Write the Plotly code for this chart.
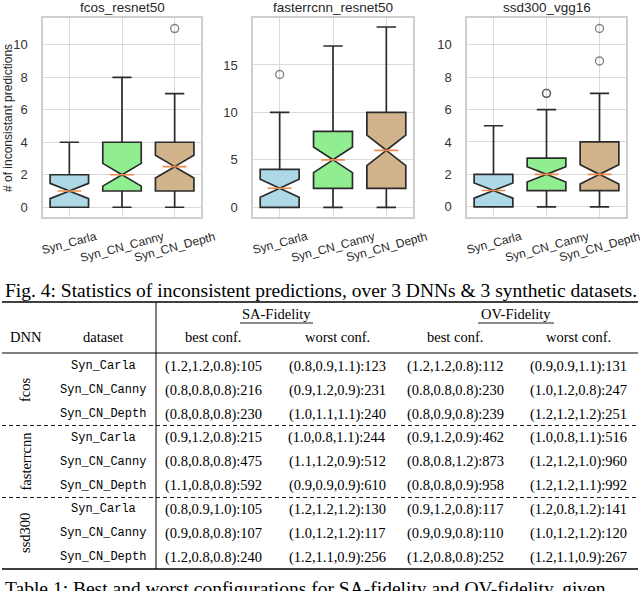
import plotly.graph_objects as go

W, H = 640, 591

categories = ["Syn_Carla", "Syn_CN_Canny", "Syn_CN_Depth"]
fill_colors = ["#add8e6", "#90ee90", "#d2b48c"]
panel_titles = ["fcos_resnet50", "fasterrcnn_resnet50", "ssd300_vgg16"]

# box statistics, one row per panel, one value per dataset
q1 = [[0, 1, 1], [0, 2, 2], [0, 1, 1]]
median = [[1, 2, 2.5], [2, 5, 6], [1, 2, 2]]
q3 = [[2, 4, 4], [4, 8, 10], [2, 3, 4]]
lower = [[0, 0, 0], [0, 0, 0], [0, 0, 0]]
upper = [[4, 8, 7], [10, 17, 19], [5, 6, 7]]
notch = [[0.47, 0.7, 0.7], [0.95, 1.35, 1.6], [0.47, 0.47, 0.6]]

# outliers per panel
out_cat = [["Syn_CN_Depth"], ["Syn_Carla"], ["Syn_CN_Canny", "Syn_CN_Canny", "Syn_CN_Depth", "Syn_CN_Depth"]]
out_val = [[11], [14], [7, 7, 9, 11]]

y_ranges = [[-0.57, 11.65], [-0.97, 19.95], [-0.6, 11.65]]
y_dticks = [2, 5, 2]

# table
dnn_names = ["fcos", "fasterrcnn", "ssd300"]
datasets = ["Syn_Carla", "Syn_CN_Canny", "Syn_CN_Depth"] * 3
header = ["DNN", "dataset", "best conf.", "worst conf.", "best conf.", "worst conf."]
sa_best = ["(1.2,1.2,0.8):105", "(0.8,0.8,0.8):216", "(0.8,0.8,0.8):230",
           "(0.9,1.2,0.8):215", "(0.8,0.8,0.8):475", "(1.1,0.8,0.8):592",
           "(0.8,0.9,1.0):105", "(0.9,0.8,0.8):107", "(1.2,0.8,0.8):240"]
sa_worst = ["(0.8,0.9,1.1):123", "(0.9,1.2,0.9):231", "(1.0,1.1,1.1):240",
            "(1.0,0.8,1.1):244", "(1.1,1.2,0.9):512", "(0.9,0.9,0.9):610",
            "(1.2,1.2,1.2):130", "(1.0,1.2,1.2):117", "(1.2,1.1,0.9):256"]
ov_best = ["(1.2,1.2,0.8):112", "(0.8,0.8,0.8):230", "(0.8,0.9,0.8):239",
           "(0.9,1.2,0.9):462", "(0.8,0.8,1.2):873", "(0.8,0.8,0.9):958",
           "(0.9,1.2,0.8):117", "(0.9,0.9,0.8):110", "(1.2,0.8,0.8):252"]
ov_worst = ["(0.9,0.9,1.1):131", "(1.0,1.2,0.8):247", "(1.2,1.2,1.2):251",
            "(1.0,0.8,1.1):516", "(1.2,1.2,1.0):960", "(1.2,1.2,1.1):992",
            "(1.2,0.8,1.2):141", "(1.0,1.2,1.2):120", "(1.2,1.1,0.9):267"]

fig_caption = "Fig. 4: Statistics of inconsistent predictions, over 3 DNNs & 3 synthetic datasets."
table_caption = "Table 1: Best and worst configurations for SA-fidelity and OV-fidelity, given"


def px(x):
    return x / W


def py(y):
    return 1 - y / H


SANS = "Liberation Sans"
SERIF = "Liberation Serif"
MONO = "Liberation Mono"

fig = go.Figure()

x_dom = [(43, 201), (253, 413), (467, 626)]
y_dom = (18, 216.5)
label_y = [243, 247, 247]

annotations = []
for p in range(3):
    xa = "x" if p == 0 else "x%d" % (p + 1)
    ya = "y" if p == 0 else "y%d" % (p + 1)
    for i, cat in enumerate(categories):
        fig.add_trace(go.Box(
            x=[cat], q1=[q1[p][i]], median=[median[p][i]], q3=[q3[p][i]],
            lowerfence=[lower[p][i]], upperfence=[upper[p][i]],
            notchspan=[notch[p][i]], notched=True, notchwidth=0.5,
            width=0.73, whiskerwidth=0.5, fillcolor=fill_colors[i],
            line=dict(color="#2b2b2b", width=1.7), boxpoints=False,
            xaxis=xa, yaxis=ya, showlegend=False, hoverinfo="skip"))
    # orange median lines
    fig.add_trace(go.Scatter(
        x=categories, y=median[p], mode="markers", xaxis=xa, yaxis=ya,
        marker=dict(symbol="line-ew", size=17, line=dict(color="#ee8a4a", width=1.6)),
        showlegend=False, hoverinfo="skip"))
    fig.add_trace(go.Scatter(
        x=out_cat[p], y=out_val[p], mode="markers", xaxis=xa, yaxis=ya,
        marker=dict(symbol="circle-open", size=8, color="rgba(70,70,70,0.65)",
                    line=dict(width=1.4)),
        showlegend=False, hoverinfo="skip"))

    axis_common = dict(showline=True, mirror=True, linecolor="#cfcfcf", linewidth=1.5,
                       showgrid=True, gridcolor="#dadada", gridwidth=1.3, zeroline=False)
    fig.update_layout(**{
        ("xaxis" if p == 0 else "xaxis%d" % (p + 1)): dict(
            domain=[px(x_dom[p][0]), px(x_dom[p][1])], anchor=ya,
            type="category", categoryorder="array", categoryarray=categories,
            range=[-0.5, 2.5], showticklabels=False, ticks="", **axis_common),
        ("yaxis" if p == 0 else "yaxis%d" % (p + 1)): dict(
            domain=[py(y_dom[1]), py(y_dom[0])], anchor=xa,
            range=y_ranges[p], dtick=y_dticks[p], tick0=0,
            tickfont=dict(family=SANS, size=13, color="#333333"),
            ticks="", ticklabelstandoff=11, **axis_common),
    })

    annotations.append(dict(
        text=panel_titles[p], xref="paper", yref="paper",
        x=px((x_dom[p][0] + x_dom[p][1]) / 2), y=py(8), showarrow=False,
        xanchor="center", yanchor="middle",
        font=dict(family=SANS, size=13.5, color="#262626")))
    for i, cat in enumerate(categories):
        annotations.append(dict(
            text=cat, xref=xa, yref="paper", x=cat, y=py(label_y[i]), showarrow=False,
            textangle=-15, xanchor="center", yanchor="middle",
            font=dict(family=SANS, size=12, color="#262626")))

annotations.append(dict(
    text="# of inconsistant predictions", xref="paper", yref="paper",
    x=px(8), y=py(118), showarrow=False, textangle=-90,
    xanchor="center", yanchor="middle",
    font=dict(family=SANS, size=12, color="#262626")))

# ---- caption + table ----
annotations.append(dict(
    text=fig_caption, xref="paper", yref="paper", x=px(3), y=py(290),
    showarrow=False, xanchor="left", yanchor="middle",
    font=dict(family=SERIF, size=19.5, color="black")))

col_x = [26, 103, 213, 337, 455, 578]
header_y = 337
row_y = [366, 390, 414, 437.5, 461.5, 485.5, 509, 533, 557]

for cx, t in zip(col_x, header):
    annotations.append(dict(text=t, xref="paper", yref="paper", x=px(cx), y=py(header_y),
                            showarrow=False, xanchor="center", yanchor="middle",
                            font=dict(family=SERIF, size=14.5, color="black")))
for t, cx in [("SA-Fidelity", 276.5), ("OV-Fidelity", 516)]:
    annotations.append(dict(text=t, xref="paper", yref="paper", x=px(cx), y=py(314),
                            showarrow=False, xanchor="center", yanchor="middle",
                            font=dict(family=SERIF, size=14.5, color="black")))

for g, name in enumerate(dnn_names):
    annotations.append(dict(text=name, xref="paper", yref="paper", x=px(25),
                            y=py(row_y[3 * g + 1]), showarrow=False, textangle=-90,
                            xanchor="center", yanchor="middle",
                            font=dict(family=SERIF, size=14.5, color="black")))

columns = [sa_best, sa_worst, ov_best, ov_worst]
for r, ry in enumerate(row_y):
    annotations.append(dict(text=datasets[r], xref="paper", yref="paper", x=px(col_x[1]),
                            y=py(ry), showarrow=False, xanchor="center", yanchor="middle",
                            font=dict(family=MONO, size=12, color="black")))
    for c, col in enumerate(columns):
        annotations.append(dict(text=col[r], xref="paper", yref="paper", x=px(col_x[c + 2]),
                                y=py(ry), showarrow=False, xanchor="center", yanchor="middle",
                                font=dict(family=SERIF, size=14.5, color="black")))

annotations.append(dict(
    text=table_caption, xref="paper", yref="paper", x=px(3), y=py(588),
    showarrow=False, xanchor="left", yanchor="middle",
    font=dict(family=SERIF, size=19.5, color="black")))


def hline(y, x0, x1, width=1.0, dash="solid"):
    return dict(type="line", xref="paper", yref="paper", x0=px(x0), x1=px(x1),
                y0=py(y), y1=py(y), line=dict(color="black", width=width, dash=dash))


shapes = [
    hline(302, 2, 638, 1.5),
    hline(353, 2, 638, 1.0),
    hline(425.5, 2, 638, 0.9, "4px,3px"),
    hline(497.5, 2, 638, 0.9, "4px,3px"),
    hline(569, 2, 638, 1.5),
    hline(323, 240, 313, 0.9),
    hline(323, 478, 554, 0.9),
    dict(type="line", xref="paper", yref="paper", x0=px(156), x1=px(156),
         y0=py(302), y1=py(569), line=dict(color="black", width=1.0)),
]

fig.update_layout(
    width=W, height=H, margin=dict(l=0, r=0, t=0, b=0),
    paper_bgcolor="white", plot_bgcolor="white",
    boxmode="overlay", annotations=annotations, shapes=shapes,
)

fig.write_html("out.html", config={"displayModeBar": False},
               post_script="document.body.style.margin='0';")
